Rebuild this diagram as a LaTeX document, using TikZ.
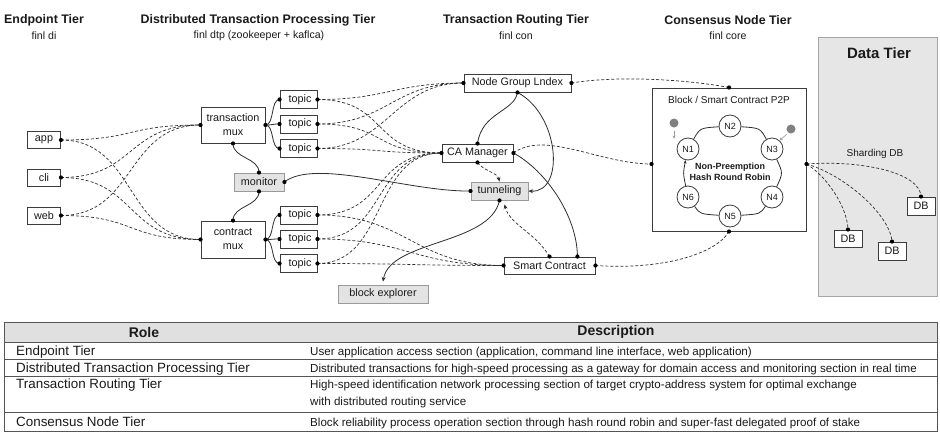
\documentclass[tikz,border=0pt]{standalone}
\usepackage{fontspec}
\setmainfont{Liberation Sans}
\usetikzlibrary{arrows.meta,calc}
\definecolor{boxc}{HTML}{3C3C3C}
\definecolor{gfill}{HTML}{E3E3E3}
\definecolor{gborder}{HTML}{9A9A9A}
\definecolor{linec}{HTML}{2E2E2E}
\definecolor{txt}{HTML}{1A1A1A}
\definecolor{datafill}{HTML}{E6E6E6}
\definecolor{databorder}{HTML}{A6A6A6}
\definecolor{hdrfill}{HTML}{E0E0E0}
\definecolor{tblline}{HTML}{555555}
\definecolor{dotgray}{HTML}{808080}
\newcommand\dgNode{\fontsize{10.8}{14}\selectfont}
\newcommand\dgHead{\fontsize{12.4}{14}\selectfont\bfseries}
\newcommand\dgSub{\fontsize{10.6}{12}\selectfont}
\newcommand\dgSmall{\fontsize{10}{12}\selectfont}
\newcommand\dgRole{\fontsize{13.4}{15}\selectfont}
\newcommand\dgTHead{\fontsize{14}{16}\selectfont\bfseries}
\newcommand\dgDesc{\fontsize{11.6}{13}\selectfont}
\newcommand\jdot[1]{\fill[black] (#1) circle (2.1pt);}
\begin{document}
\begin{tikzpicture}[x=1pt,y=-1pt,
  box/.style={draw=boxc,line width=0.9pt,inner sep=0pt,align=center,font=\dgNode,text=txt},
  gbox/.style={box,fill=gfill,draw=gborder},
  lbl/.style={inner sep=0pt,text=txt},
  rowt/.style={lbl,anchor=base west},
  dl/.style={draw=linec,line width=0.7pt,dash pattern=on 3pt off 2pt},
  sl/.style={draw=linec,line width=0.8pt},
  tip/.style={-{Stealth[length=4.5pt,width=4pt]}},
  hz/.style={to path={.. controls ($(\tikztostart)+(#1,0)$) and ($(\tikztotarget)-(#1,0)$) .. (\tikztotarget)}},
  hz/.default=60,
  vt/.style={to path={.. controls ($(\tikztostart)+(0,#1)$) and ($(\tikztotarget)-(0,#1)$) .. (\tikztotarget)}},
  vt/.default=15,
  ring/.style={circle,draw=boxc,line width=0.8pt,fill=white,minimum size=22pt,inner sep=0pt,font=\fontsize{9}{10}\selectfont,text=txt},
]
\useasboundingbox (0,0) rectangle (940,437);
\fill[white] (0,0) rectangle (940,437);

% ---------- headers ----------
\node[lbl,font=\dgHead] (h1) at (44,20) {Endpoint Tier};
\node[lbl,font=\dgSub] (s1) at (44,36) {finl di};
\node[lbl,font=\dgHead] (h2) at (258,20) {Distributed Transaction Processing Tier};
\node[lbl,font=\dgSub] (s2) at (259,36) {finl dtp (zookeeper + kaflca)};
\node[lbl,font=\dgHead] (h3) at (516,20) {Transaction Routing Tier};
\node[lbl,font=\dgSub] (s3) at (516,36) {finl con};
\node[lbl,font=\dgHead] (h4) at (728,20) {Consensus Node Tier};
\node[lbl,font=\dgSub] (s4) at (728,36) {finl core};

% ---------- data tier ----------
\node[draw=databorder,fill=datafill,line width=1pt,minimum width=119pt,minimum height=259pt,inner sep=0pt] (data) at (877.5,166.5) {};
\node[lbl,font=\fontsize{15}{17}\selectfont\bfseries] (dtl) at (879,53) {Data Tier};
\node[lbl,font=\dgSmall] (shd) at (875,154) {Sharding DB};
\node[box,fill=white,minimum width=28pt,minimum height=18pt] (db1) at (921,206) {DB};
\node[box,fill=white,minimum width=28pt,minimum height=17pt] (db2) at (848,238.5) {DB};
\node[box,fill=white,minimum width=28pt,minimum height=18pt] (db3) at (892,251) {DB};

% ---------- consensus ----------
\node[draw=boxc,line width=1pt,minimum width=154pt,minimum height=143pt,inner sep=0pt] (cons) at (729,159.5) {};
\coordinate (cW) at ($(cons.west)+(0,4.5)$);
\coordinate (cE) at ($(cons.east)+(0,4.5)$);
\node[lbl,font=\dgSmall] (p2p) at (729,100) {Block / Smart Contract P2P};
\node[ring] (n2) at (730,126) {N2};
\node[ring] (n1) at (688,149) {N1};
\node[ring] (n3) at (772,149) {N3};
\node[ring] (n6) at (688,197) {N6};
\node[ring] (n4) at (772,197) {N4};
\node[ring] (n5) at (730,216) {N5};
\node[lbl,font=\fontsize{9}{11}\selectfont\bfseries,align=center] (nph) at (730,172) {Non-Preemption\\Hash Round Robin};
\draw[sl] (n1) .. controls (700,128) .. (n2);
\draw[sl] (n2) .. controls (760,128) .. (n3);
\draw[sl] (n3) .. controls (783,173) .. (n4);
\draw[sl] (n4) .. controls (760,214) .. (n5);
\draw[sl] (n5) .. controls (700,214) .. (n6);
\draw[sl,-{Stealth[length=3.5pt,width=3pt]}] (n6) .. controls (683,173) .. (n1);
\node[circle,fill=dotgray,minimum size=9pt,inner sep=0pt] (g1) at (674,123) {};
\node[circle,fill=dotgray,minimum size=9pt,inner sep=0pt] (g2) at (791,129) {};
\draw[dotgray!80,line width=0.6pt,-{Stealth[length=3pt,width=3pt]}] ($(g1.south)+(0,3)$) -- ($(g1.south)+(0,11)$);
\draw[dotgray!80,line width=0.6pt,-{Stealth[length=3pt,width=3pt]}] ($(g2.south west)+(-1,2)$) -- ($(g2.south west)+(-8,8)$);

% ---------- endpoint ----------
\node[box,minimum width=33pt,minimum height=17pt] (app) at (44,140) {app};
\node[box,minimum width=33pt,minimum height=17pt] (cli) at (44,177.5) {cli};
\node[box,minimum width=33pt,minimum height=17pt] (web) at (44,215.5) {web};

% ---------- dtp ----------
\node[box,minimum width=64pt,minimum height=36pt] (tmux) at (233,125) {transaction\\mux};
\node[box,minimum width=64pt,minimum height=37pt] (cmux) at (233,239.5) {contract\\mux};
\node[gbox,minimum width=50pt,minimum height=18pt] (mon) at (259,182) {monitor};
\foreach \n/\y in {t1/99.5,t2/124,t3/148.5,t4/215,t5/239,t6/263.5}{
  \node[box,minimum width=37pt,minimum height=18pt] (\n) at (298.5,\y) {\hspace*{3pt}topic};
}

% ---------- routing ----------
\node[box,minimum width=107pt,minimum height=18pt] (ngi) at (517.5,83) {Node Group Lndex};
\node[box,minimum width=71pt,minimum height=18pt] (ca) at (477.5,153) {CA Manager};
\node[gbox,minimum width=57pt,minimum height=18pt] (tun) at (499.5,191) {tunneling};
\node[box,minimum width=91pt,minimum height=17pt] (sc) at (549.5,265.5) {Smart Contract};
\node[gbox,minimum width=90pt,minimum height=18pt] (bex) at (383,294) {block explorer};
\coordinate (scNE) at ($(sc.north east)+(-18,0)$);

% ---------- connectors ----------
\foreach \s in {app,cli,web}{
  \draw[dl] (\s.east) to[hz=75] (tmux.west);
  \draw[dl] (\s.east) to[hz=75] (cmux.west);
}
\foreach \t in {t1,t2,t3}{\draw[sl] (tmux.east) to[hz=9] (\t.west);}
\foreach \t in {t4,t5,t6}{\draw[sl] (cmux.east) to[hz=9] (\t.west);}
\draw[sl] (tmux.south) to[vt=15] (mon.north);
\draw[sl] (mon.south) to[vt=15] (cmux.north);
\draw[sl] (mon.east) .. controls (315,158) and (410,192) .. (tun.west);

\foreach \t in {t1,t2,t3}{
  \draw[dl] (\t.east) to[hz=70] (ngi.west);
  \draw[dl] (\t.east) to[hz=70] (ca.west);
}
\foreach \t in {t4,t5,t6}{
  \draw[dl] (\t.east) to[hz=70] (ca.west);
  \draw[dl] (\t.east) to[hz=90] (sc.west);
}

\draw[sl] (ngi.south) .. controls (514,112) and (482,112) .. (ca.north);
\draw[sl,tip] (ngi.south) .. controls (560,115) and (565,193) .. (tun.east);
\draw[sl] (ca.east) .. controls (545,170) and (577,215) .. (scNE);
\draw[dl,tip] (ca.south) .. controls (485,172) and (497,172) .. (tun.north);
\draw[dl,tip] (sc.north) .. controls (535,232) and (510,225) .. ($(tun.south)+(5,4)$);
\draw[sl,tip] (tun.south) .. controls (490,245) and (390,240) .. ($(bex.north)+(0,-3)$);

\draw[dl] (ngi.east) .. controls (620,75) and (690,80) .. (cons.north);
\draw[dl] (ca.east) .. controls (545,130) and (600,164) .. (cW);
\draw[dl] (sc.east) .. controls (660,270) and (715,255) .. (cons.south);

\draw[dl] (cE) .. controls (860,160) and (920,172) .. (db1.north);
\draw[dl] (cE) .. controls (825,175) and (847,205) .. (db2.north);
\draw[dl] (cE) .. controls (845,175) and (890,215) .. (db3.north);

% ---------- dots ----------
\foreach \p in {app.east,cli.east,web.east,tmux.west,tmux.east,tmux.south,
  cmux.west,cmux.east,cmux.north,mon.north,mon.south,mon.east,
  t1.west,t1.east,t2.west,t2.east,t3.west,t3.east,t4.west,t4.east,t5.west,t5.east,t6.west,t6.east,
  ngi.west,ngi.east,ngi.south,ca.west,ca.east,ca.north,ca.south,tun.west,tun.south,
  sc.west,sc.east,sc.north,scNE,cons.north,cons.south,cW,cE,db1.north,db2.north,db3.north}{\jdot{\p}}

% ---------- table ----------
\node[draw=tblline,fill=hdrfill,line width=0.8pt,minimum width=933pt,minimum height=20pt,inner sep=0pt] (thead) at (470.5,332) {};
\node[draw=tblline,line width=0.8pt,minimum width=933pt,minimum height=109pt,inner sep=0pt] (tbl) at (470.5,376.5) {};
\draw[tblline,line width=0.7pt] (4,359) -- (937,359);
\draw[tblline,line width=0.7pt] (4,376) -- (937,376);
\draw[tblline,line width=0.7pt] (4,412) -- (937,412);
\node[lbl,font=\dgTHead] (hrole) at (144,332) {Role};
\node[lbl,font=\dgTHead] (hdesc) at (616,332) {Description};
\node[rowt,font=\dgRole] (r1) at (16,355) {Endpoint Tier};
\node[rowt,font=\dgRole] (r2) at (16,372) {Distributed Transaction Processing Tier};
\node[rowt,font=\dgRole] (r3) at (16,388.5) {Transaction Routing Tier};
\node[rowt,font=\dgRole] (r4) at (16,426) {Consensus Node Tier};
\node[rowt,font=\dgDesc] (d1) at (310,355) {User application access section (application, command line interface, web application)};
\node[rowt,font=\dgDesc] (d2) at (310,372) {Distributed transactions for high-speed processing as a gateway for domain access and monitoring section in real time};
\node[rowt,font=\dgDesc] (d3a) at (310,388.5) {High-speed identification network processing section of target crypto-address system for optimal exchange};
\node[rowt,font=\dgDesc] (d3b) at (310,405.5) {with distributed routing service};
\node[rowt,font=\dgDesc] (d4) at (310,426) {Block reliability process operation section through hash round robin and super-fast delegated proof of stake};
\end{tikzpicture}
\end{document}
